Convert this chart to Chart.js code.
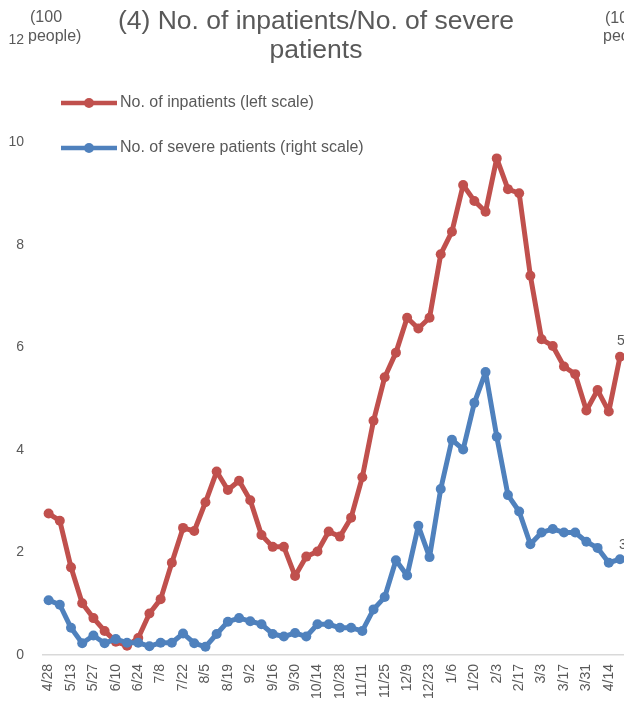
<!DOCTYPE html>
<html lang="en">
<head>
    <meta charset="UTF-8">
    <title>No. of inpatients / No. of severe patients</title>
    <script src="https://cdn.jsdelivr.net/npm/chart.js"></script>
    <style>
        body { margin: 0; overflow: hidden; background: #fff; }
        #wrap { width: 624px; height: 702px; overflow: hidden; position: relative; }
        canvas { position: absolute; left: 0; top: 0; }
    </style>
</head>
<body>
    <div id="wrap"><canvas id="chartCanvas" width="700" height="702"></canvas></div>

    <script>
        // weekly dates, a label shown on every other week
        const weeks = ['4/28','5/6','5/13','5/20','5/27','6/3','6/10','6/17','6/24','7/1','7/8','7/15','7/22','7/29',
            '8/5','8/12','8/19','8/26','9/2','9/9','9/16','9/23','9/30','10/7','10/14','10/21','10/28','11/4',
            '11/11','11/18','11/25','12/2','12/9','12/16','12/23','12/30','1/6','1/13','1/20','1/27','2/3','2/10',
            '2/17','2/24','3/3','3/10','3/17','3/24','3/31','4/7','4/14','4/21'];

        // inpatients, in 100 people (left scale)
        const inpatients = [2.76, 2.62, 1.71, 1.01, 0.72, 0.47, 0.26, 0.18, 0.33, 0.81, 1.09, 1.80, 2.48, 2.42,
            2.98, 3.58, 3.22, 3.40, 3.02, 2.34, 2.11, 2.11, 1.54, 1.92, 2.02, 2.41, 2.31, 2.68,
            3.47, 4.57, 5.42, 5.90, 6.58, 6.37, 6.58, 7.82, 8.26, 9.17, 8.86, 8.65, 9.69, 9.09,
            9.01, 7.40, 6.16, 6.03, 5.63, 5.48, 4.77, 5.17, 4.75, 5.82];

        // severe patients, in 10 people (right scale)
        const severe = [2.14, 1.96, 1.06, 0.46, 0.76, 0.46, 0.62, 0.48, 0.48, 0.34, 0.48, 0.48, 0.84, 0.46,
            0.32, 0.82, 1.30, 1.44, 1.32, 1.20, 0.82, 0.72, 0.86, 0.72, 1.20, 1.20, 1.06, 1.06,
            0.94, 1.78, 2.26, 3.70, 3.10, 5.04, 3.82, 6.48, 8.40, 8.02, 9.84, 11.04, 8.52, 6.24,
            5.60, 4.32, 4.78, 4.92, 4.78, 4.78, 4.42, 4.18, 3.60, 3.74];

        const leftTicks = [0, 2, 4, 6, 8, 10, 12];
        const rightMax = 24;

        const RED = '#C0504D';
        const BLUE = '#4F81BD';
        const TEXT = '#595959';
        const FONT = '"Liberation Sans", Arial, sans-serif';

        const textPlugin = {
            id: 'texts',
            afterDatasetsDraw(chart) {
                const c = chart.ctx;
                c.save();
                c.fillStyle = TEXT;

                // end-of-line value labels
                c.font = '14px ' + FONT;
                c.textAlign = 'left';
                c.textBaseline = 'middle';
                const mRed = chart.getDatasetMeta(0).data;
                const mBlue = chart.getDatasetMeta(1).data;
                const pr = mRed[mRed.length - 1], pb = mBlue[mBlue.length - 1];
                c.fillText(String(Math.round(inpatients[inpatients.length - 1] * 100)), pr.x - 3, pr.y - 16);
                c.fillText(String(Math.round(severe[severe.length - 1] * 10)), pb.x - 1, pb.y - 14);

                // title
                c.font = '26.5px ' + FONT;
                c.textAlign = 'center';
                c.fillText('(4) No. of inpatients/No. of severe', 316, 22);
                c.fillText('patients', 316, 51);

                // axis unit labels
                c.font = '16px ' + FONT;
                c.textAlign = 'left';
                c.fillText('(100', 30, 18);
                c.fillText('people)', 28, 37);
                c.fillText('(10', 605, 19);
                c.fillText('people)', 603, 37);

                // legend
                [[RED, 'No. of inpatients (left scale)', 103], [BLUE, 'No. of severe patients (right scale)', 148]].forEach(([col, txt, y]) => {
                    c.strokeStyle = col;
                    c.lineWidth = 4.5;
                    c.beginPath();
                    c.moveTo(61, y);
                    c.lineTo(117, y);
                    c.stroke();
                    c.fillStyle = col;
                    c.beginPath();
                    c.arc(89, y, 5, 0, Math.PI * 2);
                    c.fill();
                    c.fillStyle = TEXT;
                    c.fillText(txt, 120, y);
                });
                c.restore();
            }
        };

        const lineStyle = { borderWidth: 5, pointRadius: 5, pointBorderWidth: 0, tension: 0,
                            borderJoinStyle: 'round', borderCapStyle: 'round' };

        const ctx = document.getElementById('chartCanvas').getContext('2d');
        const chart = new Chart(ctx, {
            type: 'line',
            data: {
                labels: weeks,
                datasets: [
                    Object.assign({ label: 'No. of inpatients (left scale)', data: inpatients, yAxisID: 'y', order: 1,
                      borderColor: RED, backgroundColor: RED }, lineStyle),
                    Object.assign({ label: 'No. of severe patients (right scale)', data: severe, yAxisID: 'y1', order: 0,
                      borderColor: BLUE, backgroundColor: BLUE }, lineStyle)
                ]
            },
            options: {
                responsive: false,
                animation: false,
                layout: { padding: { top: 40, left: 0, right: 74.4, bottom: 0 } },
                plugins: { legend: { display: false }, title: { display: false }, tooltip: { enabled: false } },
                scales: {
                    x: {
                        offset: true,
                        grid: { display: false, drawTicks: false, offset: true },
                        border: { display: true, color: '#d9d9d9', width: 1.5 },
                        ticks: {
                            autoSkip: false, maxRotation: 90, minRotation: 90, padding: 9,
                            color: TEXT, font: { family: FONT, size: 14 },
                            callback: (v, i) => (i % 2 === 0 ? weeks[i] : '')
                        },
                        afterFit: s => { s.height = 47; }
                    },
                    y: {
                        position: 'left', min: leftTicks[0], max: leftTicks[leftTicks.length - 1],
                        afterBuildTicks: s => { s.ticks = leftTicks.map(v => ({ value: v })); },
                        grid: { display: false, drawTicks: false },
                        border: { display: false },
                        ticks: { padding: 19, color: TEXT, font: { family: FONT, size: 14 } },
                        afterFit: s => { s.width = 43; }
                    },
                    y1: {
                        position: 'right', display: false, min: 0, max: rightMax
                    }
                }
            },
            plugins: [textPlugin]
        });
    </script>
</body>
</html>
